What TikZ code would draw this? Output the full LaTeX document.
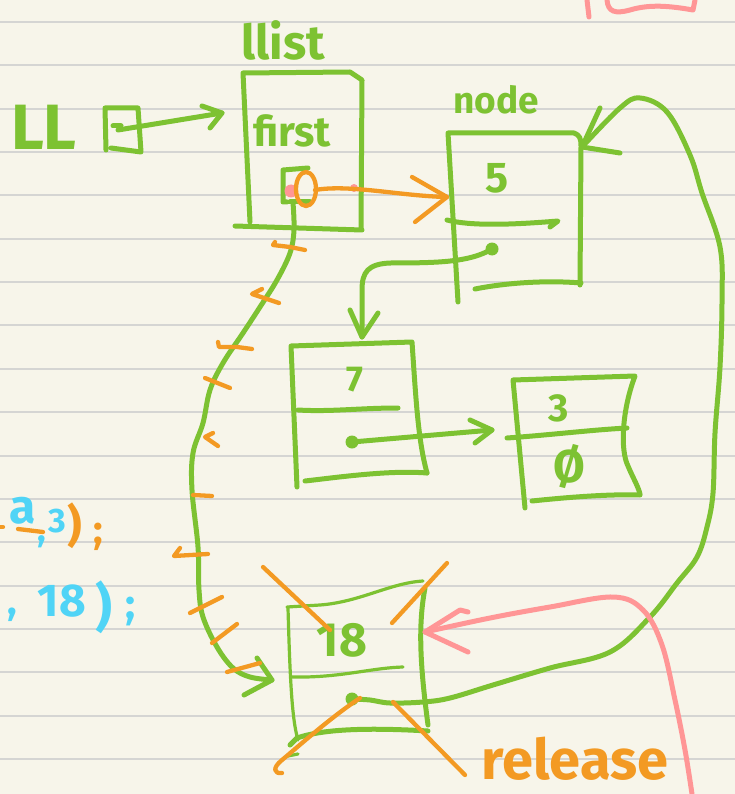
\documentclass[tikz,border=0pt]{standalone}
\usepackage{fontspec}
\setmainfont{Fira Sans}
\begin{document}
\begin{tikzpicture}[x=1pt,y=-1pt,
  ink/.style={line width=5pt,line cap=round,line join=round},
  gink/.style={ink,draw=inkgreen},
  thing/.style={line width=3.2pt,line cap=round,line join=round,draw=inkgreen},
  oink/.style={line width=4.3pt,line cap=round,line join=round,draw=inkorange},
  pink/.style={ink,draw=inkpink},
  hand/.style={inner sep=0pt,text=inkgreen},
  rule/.style={draw=rulegray,line width=2pt}]
\definecolor{paper}{RGB}{247,245,234}
\definecolor{rulegray}{RGB}{213,213,211}
\definecolor{inkgreen}{RGB}{125,194,50}
\definecolor{inkorange}{RGB}{243,154,35}
\definecolor{inkpink}{RGB}{255,150,150}
\definecolor{inkcyan}{RGB}{80,212,246}
% paper and ruling
\fill[paper] (0,0) rectangle (735,794);
\useasboundingbox (0,0) rectangle (735,794);
\foreach \k in {0,...,17} \draw[rule] (0,22+43.35*\k) -- (735,22+43.35*\k);

% pink bracket at the top edge
\draw[pink] (587,0) -- (589,17);
\draw[pink] (607,0) .. controls (608,12) and (615,14) .. (630,10)
  .. controls (650,4) and (670,6) .. (693,10) -- (695,0);

% ---------- labels ----------
\node[hand,font=\bfseries\fontsize{64}{64}\selectfont] (LL) at (44,127) {LL};
\node[hand,font=\bfseries\fontsize{48}{48}\selectfont] (llistlbl) at (283,40) {llist};
\node[hand,font=\bfseries\fontsize{42}{42}\selectfont] (first) at (292,131) {first};
\node[hand,font=\bfseries\fontsize{37}{37}\selectfont] (nodelbl) at (496,100) {node};
\node[hand,font=\bfseries\fontsize{43}{43}\selectfont] (v5) at (497,178) {5};
\node[hand,font=\bfseries\fontsize{36}{36}\selectfont] (v7) at (355,380) {7};
\node[hand,font=\bfseries\fontsize{39}{39}\selectfont] (v3) at (559,408) {3};
\node[hand,font=\bfseries\fontsize{46}{46}\selectfont] (vnull) at (569,467) {Ø};
\node[hand,font=\bfseries\fontsize{48}{48}\selectfont] (v18) at (342,640) {18};
\node[hand,text=inkorange,anchor=base,font=\bfseries\fontsize{56}{56}\selectfont] (release) at (575,779) {release};

% code fragments at the left edge
\draw[line width=4.3pt,line cap=round,draw=inkorange] (0,527) -- (3,527);
\node[hand,text=inkcyan,font=\bfseries\fontsize{48}{48}\selectfont] (ca) at (23,511) {a};
\draw[line width=4.3pt,line cap=round,draw=inkorange] (18,529) -- (43,532);
\node[hand,text=inkcyan,font=\bfseries\fontsize{36}{36}\selectfont] (ccomma) at (42,542) {,};
\node[hand,text=inkcyan,font=\bfseries\fontsize{34}{34}\selectfont] (c3) at (57,521) {3};
\node[hand,text=inkorange,font=\bfseries\fontsize{45}{45}\selectfont] (cparen) at (75,526) {)};
\node[hand,text=inkorange,font=\bfseries\fontsize{40}{40}\selectfont] (csemi) at (98,537) {;};
\node[hand,text=inkcyan,font=\bfseries\fontsize{40}{40}\selectfont] (dcomma) at (12,615) {,};
\node[hand,text=inkcyan,font=\bfseries\fontsize{46}{46}\selectfont] (d18) at (62,601) {18};
\node[hand,text=inkcyan,font=\bfseries\fontsize{52}{52}\selectfont] (dparen) at (104,607) {)};
\node[hand,text=inkcyan,font=\bfseries\fontsize{42}{42}\selectfont] (dsemi) at (131,612) {;};

% ---------- LL pointer cell ----------
\draw[gink] (106,150) -- (105,108) -- (138,108) -- (141,152) -- (111,148);
\draw[gink] (113,126) -- (121,126);
\coordinate (LLptr) at (118,130);
\coordinate (llistin) at (222,113);
\draw[gink] (LLptr) -- (llistin);
\draw[gink] (202,106) -- (llistin) -- (210,128);

% ---------- llist struct ----------
\draw[gink] (250,222) -- (243,73) -- (350,72) -- (362,80) -- (361,229);
\draw[gink] (235,226) -- (362,230);
\draw[gink] (287,202) -- (283,202) -- (283,170) -- (308,168);
\draw[gink] (290,202) -- (310,202);
\fill[inkpink] (291,191) circle (6.5);
\fill[inkpink] (354,188) circle (4);
\draw[oink] (306,189) ellipse (10 and 17);
\coordinate (firstout) at (315,190);
\coordinate (n5in) at (447,197);
\draw[oink] (firstout) .. controls (350,184) and (400,196) .. (n5in);
\draw[oink] (412,177) -- (n5in) -- (415,222);

% ---------- node 5 ----------
\draw[gink] (458,302) -- (448,133) -- (574,133) .. controls (580,135) and (581,139) .. (581,146)
  -- (580,285);
\draw[gink] (475,289) .. controls (505,283) and (545,280) .. (581,283);
\draw[gink] (447,220) .. controls (470,226) and (510,225) .. (558,221) -- (550,227);
\coordinate (n5ptr) at (492,249);
\fill[inkgreen] (n5ptr) circle (6.5);
\coordinate (n7in) at (362,337);
\draw[gink] (n5ptr) .. controls (470,262) and (440,263) .. (390,263)
  .. controls (368,264) and (362,272) .. (362,290) -- (n7in);
\draw[gink] (350,310) -- (n7in) -- (378,313);

% ---------- node 7 ----------
\draw[gink] (297,487) -- (291,346) -- (412,342) .. controls (416,400) and (418,440) .. (427,473);
\draw[gink] (305,481) .. controls (340,477) and (390,470) .. (427,473);
\draw[gink] (298,410) .. controls (330,412) and (360,408) .. (398,408);
\coordinate (n7ptr) at (352,442);
\fill[inkgreen] (n7ptr) circle (6.5);
\coordinate (n3in) at (492,430);
\draw[gink] (n7ptr) -- (n3in);
\draw[gink] (470,420) -- (n3in) -- (475,443);

% ---------- node 3 ----------
\draw[gink] (525,508) -- (513,380) -- (635,376) .. controls (622,410) and (620,450) .. (628,466)
  .. controls (633,478) and (638,486) .. (640,494);
\draw[gink] (532,501) .. controls (570,497) and (610,494) .. (640,495);
\draw[gink] (507,438) .. controls (550,435) and (590,430) .. (627,428);

% ---------- node 18 (released) ----------
\draw[thing] (287,607) -- (320,605) .. controls (360,602) and (390,583) .. (423,581);
\draw[thing] (288,608) .. controls (290,680) and (292,720) .. (298,740);
\draw[gink] (425,588) .. controls (418,625) and (420,665) .. (428,725);
\draw[gink] (290,745) -- (297,738) .. controls (320,730) and (360,727) .. (428,731);
\draw[thing] (288,756) -- (298,754);
\draw[thing] (292,677) .. controls (340,678) and (370,668) .. (403,667);
\coordinate (n18ptr) at (352,699);
\fill[inkgreen] (n18ptr) circle (6.5);

% head pointer of llist down to node 18, crossed out
\coordinate (firstdown) at (293,203);
\coordinate (n18in) at (272,680);
\draw[gink] plot[smooth,tension=0.6] coordinates {(firstdown) (294,230) (290,253) (277,280) (260,307)
  (243,333) (223,363) (210,390) (203,423) (193,453) (192,490) (198,547) (199,590)
  (203,617) (217,647) (233,668) (250,677) (n18in)};
\draw[gink] (257,658) -- (n18in) -- (244,695);
\draw[oink] (275,242) -- (273,245) -- (290,247) -- (305,250);
\draw[oink] (262,289) -- (252,294) -- (267,299) -- (279,303);
\draw[oink] (218,342) -- (219,347) -- (237,347) -- (252,349);
\draw[oink] (205,378) -- (230,388);
\draw[oink] (213,433) -- (205,437) -- (218,446);
\draw[oink] (193,495) -- (212,496);
\draw[oink] (180,548) -- (174,556) -- (208,554);
\draw[oink] (190,613) -- (222,597);
\draw[oink] (212,643) -- (237,624);
\draw[oink] (227,672) -- (260,663);

% next pointer of node 18 looping back to node 5
\coordinate (n5back) at (582,147);
\draw[gink] plot[smooth,tension=0.6] coordinates {(n18ptr) (370,700) (390,703) (423,702)
  (450,698) (493,685) (550,668) (610,652) (650,617) (677,583) (697,557) (707,527)
  (713,493) (715,433) (720,367) (722,300) (720,247) (702,193) (690,155) (667,112)
  (640,98) (620,108) (n5back)};
\draw[gink] (600,108) -- (n5back) -- (620,153);

% release cross over node 18
\draw[oink] (263,567) -- (330,630);
\draw[oink] (393,702) -- (465,775);
\draw[oink] (447,563) -- (392,623);
\draw[oink] (360,698) .. controls (330,718) and (300,745) .. (282,760)
  .. controls (272,768) and (274,774) .. (282,773);

% pink pointer into node 18
\coordinate (pinktip) at (425,632);
\draw[pink] plot[smooth,tension=0.6] coordinates {(pinktip) (490,618) (550,607) (613,597)
  (643,610) (662,645) (675,700) (685,750) (692,794)};
\draw[pink] (468,612) -- (460,610) -- (pinktip) -- (468,652);
\end{tikzpicture}
\end{document}
